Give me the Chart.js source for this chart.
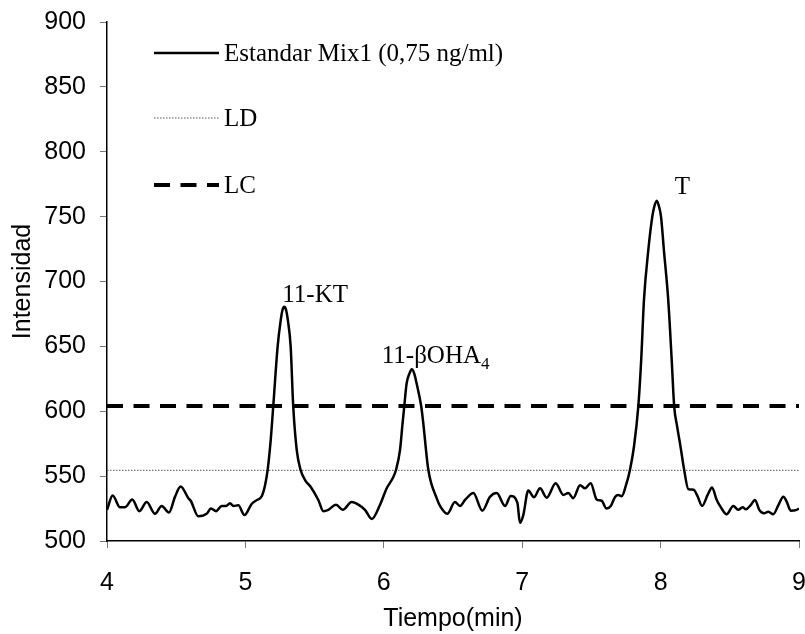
<!DOCTYPE html>
<html>
<head>
<meta charset="utf-8">
<script src="https://cdn.jsdelivr.net/npm/chart.js@4.4.1/dist/chart.umd.min.js"></script>
<style>
  html, body { margin: 0; padding: 0; background: #fff; }
  #wrap { width: 805px; height: 634px; }
</style>
</head>
<body>
<div id="wrap"><canvas id="chrom" width="805" height="634"></canvas></div>
<script>
// chromatogram trace: retention time (min) and signal intensity
const timeMin = [
  4.000, 4.041, 4.094, 4.130, 4.183, 4.233, 4.287, 4.347, 4.395, 4.448,
  4.491, 4.532, 4.588, 4.605, 4.660, 4.720, 4.751, 4.788, 4.829, 4.860,
  4.889, 4.913, 4.949, 4.993, 5.045, 5.082, 5.118, 5.142, 5.161, 5.183,
  5.202, 5.233, 5.255, 5.268, 5.281, 5.294, 5.307, 5.327, 5.345, 5.371,
  5.399, 5.431, 5.470, 5.527, 5.563, 5.599, 5.655, 5.703, 5.768, 5.816,
  5.864, 5.913, 5.973, 6.021, 6.064, 6.088, 6.117, 6.135, 6.148, 6.165,
  6.185, 6.202, 6.220, 6.237, 6.270, 6.283, 6.322, 6.382, 6.406, 6.459,
  6.514, 6.551, 6.587, 6.647, 6.712, 6.767, 6.816, 6.876, 6.917, 6.965,
  6.984, 7.008, 7.044, 7.085, 7.129, 7.177, 7.242, 7.297, 7.333, 7.369,
  7.418, 7.454, 7.495, 7.538, 7.574, 7.610, 7.640, 7.671, 7.695, 7.719,
  7.750, 7.779, 7.808, 7.839, 7.860, 7.880, 7.911, 7.940, 7.955, 7.972,
  7.988, 8.003, 8.024, 8.055, 8.080, 8.098, 8.120, 8.145, 8.170, 8.200,
  8.238, 8.265, 8.300, 8.340, 8.372, 8.404, 8.438, 8.477, 8.525, 8.561,
  8.593, 8.617, 8.651, 8.682, 8.713, 8.747, 8.778, 8.814, 8.851, 8.887,
  8.911, 8.940, 8.983, 9.000
];
const intensity = [
  524, 535, 526, 526, 532, 523, 530, 521, 527, 522,
  534, 542, 533, 531, 519, 521, 525, 523, 527, 527,
  529, 527, 527.5, 520, 528.5, 531.5, 534.5, 543, 555, 578,
  605, 650, 670, 678, 680.5, 678, 670, 650, 605, 570,
  554.7, 547, 542, 531.6, 523, 524, 528, 524, 530, 528,
  524, 517, 528, 540.6, 548.3, 554.7, 570, 590, 604, 621.5,
  629, 632.3, 629, 621.5, 604, 593, 554.7, 533, 527, 521,
  530, 527, 531.6, 537, 523.4, 534, 537, 527, 534.7, 529.5,
  514, 520, 539, 533.7, 540.6, 533.4, 544.5, 535.5, 537, 533,
  543, 540.6, 544.5, 532, 531, 525, 527, 534, 535.5, 534.5,
  543, 555, 573, 604, 640, 686, 724, 750, 758, 762.3,
  758, 750, 724, 686, 640, 604, 588, 572, 555, 540,
  539.5, 535, 527, 535.5, 541.3, 532, 525.5, 520.6, 527, 524,
  526, 524.4, 527.7, 531.6, 524, 521.3, 522.6, 520.6, 527.7, 534.2,
  530.3, 523.4, 524, 525
];

// detection and quantification limits
const ldLevel = 554.5;
const lcLevel = 604;

// axis ticks
const xTicks = [4, 5, 6, 7, 8, 9];
const yTicks = [500, 550, 600, 650, 700, 750, 800, 850, 900];

// peak names and the retention time of each apex
const peakNames = ['11-KT', '11-\u03B2OHA', 'T'];
const peakSubs = ['', '4', ''];
const peakTimes = [5.281, 6.202, 7.972];

const seriesLabels = ['Estandar Mix1 (0,75 ng/ml)', 'LD', 'LC'];

const sansFont = "'Liberation Sans', Arial, sans-serif";
const serifFont = "'Liberation Serif', 'Times New Roman', serif";

const traceData = timeMin.map((t, i) => ({ x: t, y: intensity[i] }));
const edge = [xTicks[0], xTicks[xTicks.length - 1]];

// draw legend inside the plot, top left
const legendInside = {
  id: 'legendInside',
  afterDraw(chart) {
    const ctx = chart.ctx;
    const rows = [53, 118, 185];
    const x0 = 154, x1 = 219;
    ctx.save();
    chart.data.datasets.forEach((ds, i) => {
      ctx.beginPath();
      ctx.strokeStyle = ds.borderColor;
      ctx.lineWidth = ds.borderWidth;
      ctx.setLineDash(ds.borderDash || []);
      ctx.moveTo(x0, rows[i]);
      ctx.lineTo(x1, rows[i]);
      ctx.stroke();
      ctx.setLineDash([]);
      ctx.fillStyle = '#000';
      ctx.font = '25px ' + serifFont;
      ctx.textBaseline = 'middle';
      ctx.textAlign = 'left';
      ctx.fillText(ds.label, x1 + 5, rows[i] + 1);
    });
    ctx.restore();
  }
};

// peak names above each apex
const peakLabels = {
  id: 'peakLabels',
  afterDatasetsDraw(chart) {
    const ctx = chart.ctx;
    const xs = chart.scales.x, ys = chart.scales.y;
    const shift = [[-2, -5], [-30, -6], [18, -7]];
    ctx.save();
    ctx.fillStyle = '#000';
    ctx.textBaseline = 'alphabetic';
    ctx.textAlign = 'left';
    peakTimes.forEach((t, i) => {
      const idx = timeMin.indexOf(t);
      const px = xs.getPixelForValue(t) + shift[i][0];
      const py = ys.getPixelForValue(intensity[idx]) + shift[i][1];
      ctx.font = '25px ' + serifFont;
      ctx.fillText(peakNames[i], px, py);
      if (peakSubs[i]) {
        const w = ctx.measureText(peakNames[i]).width;
        ctx.font = '17px ' + serifFont;
        ctx.fillText(peakSubs[i], px + w, py + 6);
      }
    });
    ctx.restore();
  }
};

new Chart(document.getElementById('chrom'), {
  type: 'line',
  data: {
    datasets: [
      {
        label: seriesLabels[0],
        data: traceData,
        borderColor: '#000',
        borderWidth: 2.5,
        pointRadius: 0,
        cubicInterpolationMode: 'monotone',
        fill: false
      },
      {
        label: seriesLabels[1],
        data: edge.map(x => ({ x: x, y: ldLevel })),
        borderColor: '#555',
        borderWidth: 1,
        borderDash: [1.5, 1.5],
        pointRadius: 0,
        fill: false
      },
      {
        label: seriesLabels[2],
        data: edge.map(x => ({ x: x, y: lcLevel })),
        borderColor: '#000',
        borderWidth: 4,
        borderDash: [16, 10.5],
        pointRadius: 0,
        fill: false
      }
    ]
  },
  options: {
    responsive: false,
    animation: false,
    devicePixelRatio: 1,
    layout: { padding: { top: 22, right: 6, left: 0, bottom: 0 } },
    plugins: {
      legend: { display: false },
      tooltip: { enabled: false }
    },
    scales: {
      x: {
        type: 'linear',
        min: edge[0],
        max: edge[1],
        afterBuildTicks: s => { s.ticks = xTicks.map(v => ({ value: v })); },
        afterFit: s => { s.height = 93; s.paddingRight = 0; s.paddingLeft = 0; },
        ticks: { color: '#000', font: { family: sansFont, size: 25 }, padding: 20 },
        grid: { drawOnChartArea: false, drawTicks: true, tickLength: 7, color: '#777' },
        border: { color: '#000', width: 1.5 },
        title: { display: true, text: 'Tiempo(min)', color: '#000', font: { family: sansFont, size: 25 }, padding: { top: 0, bottom: 0 } }
      },
      y: {
        min: yTicks[0],
        max: yTicks[yTicks.length - 1],
        afterBuildTicks: s => { s.ticks = yTicks.map(v => ({ value: v })); },
        afterFit: s => { s.width = 107; s.paddingTop = 0; s.paddingBottom = 0; },
        ticks: { color: '#000', font: { family: sansFont, size: 25 }, padding: 14 },
        grid: { drawOnChartArea: false, drawTicks: true, tickLength: 7, color: '#777' },
        border: { color: '#000', width: 1.5 },
        title: { display: true, text: 'Intensidad', color: '#000', font: { family: sansFont, size: 25 }, padding: { top: 8, bottom: 0 } }
      }
    }
  },
  plugins: [legendInside, peakLabels]
});
</script>
</body>
</html>
